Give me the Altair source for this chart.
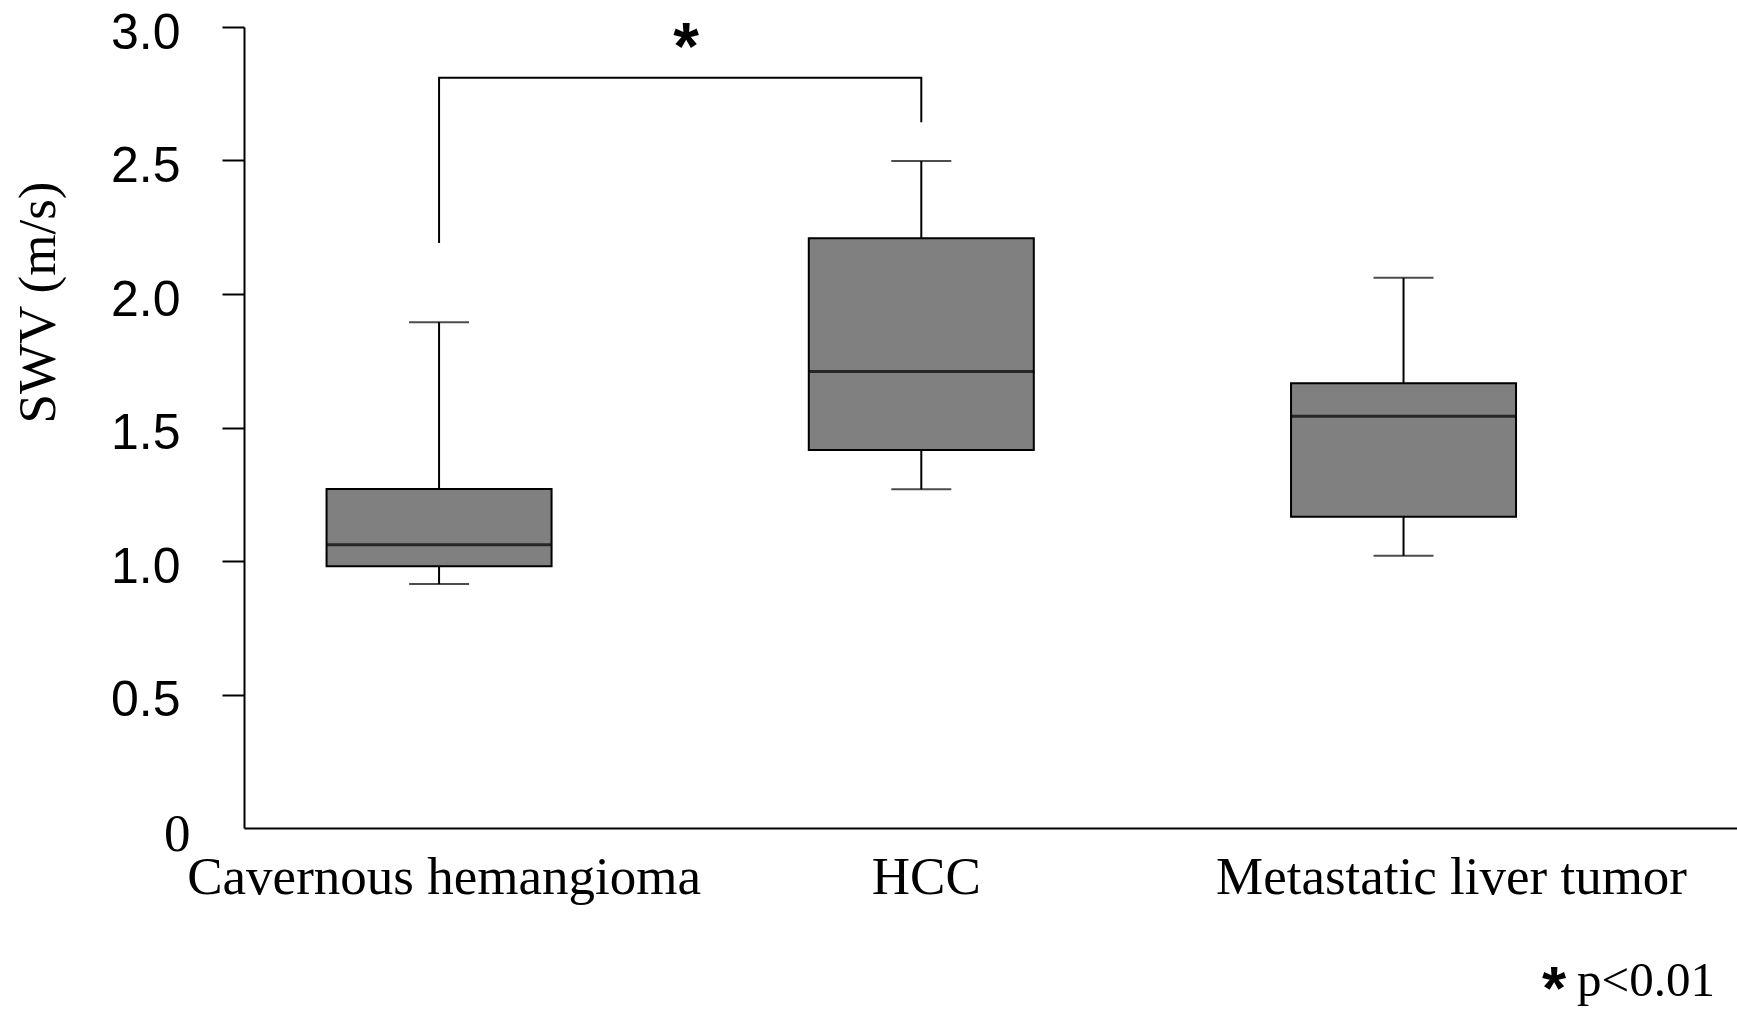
import altair as alt
import pandas as pd

# ---- data ----
categories = ["Cavernous hemangioma", "HCC", "Metastatic liver tumor"]
whisker_low = [0.914, 1.269, 1.020]
q1 = [0.980, 1.416, 1.166]
median = [1.061, 1.710, 1.542]
q3 = [1.270, 2.209, 1.666]
whisker_high = [1.894, 2.498, 2.061]
y_ticks = [0, 0.5, 1.0, 1.5, 2.0, 2.5, 3.0]

bracket_cats = ["Cavernous hemangioma", "Cavernous hemangioma", "HCC", "HCC"]
bracket_vals = [2.191, 2.810, 2.810, 2.643]
bracket_order = [0, 1, 2, 3]
star_cat = ["Cavernous hemangioma"]
star_val = [2.918]
foot_star = ["*"]
foot_text = ["p<0.01"]

box_df = pd.DataFrame({
    "cat": categories, "lo": whisker_low, "q1": q1, "med": median,
    "q3": q3, "hi": whisker_high,
})
bracket_df = pd.DataFrame({"cat": bracket_cats, "v": bracket_vals, "o": bracket_order})
star_df = pd.DataFrame({"cat": star_cat, "v": star_val, "t": ["*"]})
foot_star_df = pd.DataFrame({"t": foot_star})
foot_text_df = pd.DataFrame({"t": foot_text})

SERIF = "Liberation Serif"
SANS = "Liberation Sans"

x_scale = alt.Scale(domain=categories, paddingInner=0.5334, paddingOuter=0.3147, align=0.272)
y_scale = alt.Scale(domain=[0, 3], nice=False, zero=True)

x_axis = alt.Axis(
    title=None, labelAngle=0, ticks=False, domainColor="black", domainWidth=2,
    labelFont=SERIF, labelFontSize=53, labelColor="black", labelBaseline="top",
    labelPadding=23, labelLimit=0, labelOverlap=False, grid=False,
    labelOffset={"condition": {"test": "datum.value == 'Metastatic liver tumor'", "value": 48}, "value": 5},
)
y_axis = alt.Axis(
    values=y_ticks,
    labelExpr="datum.value == 0 ? '0' : format(datum.value, '.1f')",
    labelFont={"condition": {"test": "datum.value == 0", "value": SERIF}, "value": SANS},
    labelFontSize={"condition": {"test": "datum.value == 0", "value": 53}, "value": 50},
    labelPadding={"condition": {"test": "datum.value == 0", "value": 32}, "value": 42},
    tickOpacity={"condition": {"test": "datum.value == 0", "value": 0}, "value": 1},
    labelOffset=6, labelColor="black", labelBaseline="middle",
    tickSize=22, tickWidth=2, tickColor="black",
    domainColor="black", domainWidth=2, grid=False,
    title="SWV (m/s)", titleFont=SERIF, titleFontSize=53, titleFontWeight="normal",
    titleColor="black", titleAngle=270, titleX=-206, titleY=275,
    titleAlign="center", titleBaseline="middle",
)


def X():
    return alt.X("cat:N", scale=x_scale, axis=x_axis, sort=categories)


def Y(field):
    return alt.Y(field, type="quantitative", scale=y_scale, axis=y_axis)


base = alt.Chart(box_df)

whisker = base.mark_rule(color="black", strokeWidth=2).encode(x=X(), y=Y("lo"), y2="hi")
box = base.mark_bar(fill="#808080", stroke="black", strokeWidth=2).encode(x=X(), y=Y("q1"), y2="q3")
med = base.mark_tick(color="black", size=226, thickness=3).encode(x=X(), y=Y("med"))
cap_lo = base.mark_tick(color="black", size=60, thickness=2).encode(x=X(), y=Y("lo"))
cap_hi = base.mark_tick(color="black", size=60, thickness=2).encode(x=X(), y=Y("hi"))

bracket = alt.Chart(bracket_df).mark_line(color="black", strokeWidth=2).encode(
    x=X(), y=Y("v"), order="o:Q"
)
star = alt.Chart(star_df).mark_text(
    font=SANS, fontSize=66, fontWeight="bold", color="black", dx=247, baseline="middle"
).encode(x=X(), y=Y("v"), text="t:N")

foot1 = alt.Chart(foot_star_df).mark_text(
    font=SANS, fontSize=62, fontWeight="bold", color="black", align="center", baseline="middle"
).encode(x=alt.value(1310), y=alt.value(963), text="t:N")
foot2 = alt.Chart(foot_text_df).mark_text(
    font=SERIF, fontSize=49, color="black", align="left", baseline="alphabetic"
).encode(x=alt.value(1333), y=alt.value(969), text="t:N")

chart = alt.layer(whisker, box, med, cap_lo, cap_hi, bracket, star, foot1, foot2).properties(
    width=1493, height=801,
    autosize=alt.AutoSizeParams(type="none"),
    padding={"left": 244, "top": 27, "right": 0, "bottom": 181},
    background="white",
).configure_view(strokeWidth=0)

chart.save("out.html", embed_options={"renderer": "svg", "actions": False})
